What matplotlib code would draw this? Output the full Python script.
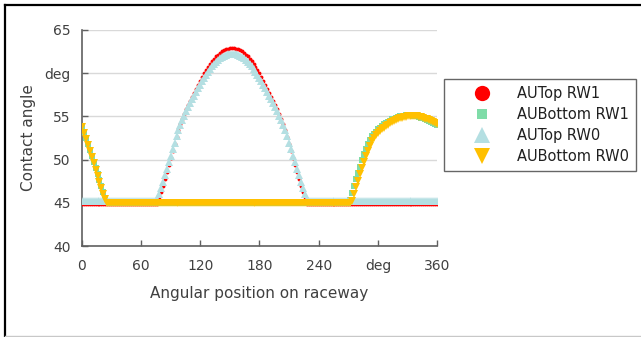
import numpy as np
import matplotlib
matplotlib.use('Agg')
import matplotlib.pyplot as plt
from matplotlib.lines import Line2D

# angular positions on raceway, every 2 deg (181 points)
angle = np.arange(0, 361, 2)

# contact angle values
au_top_rw1 = [
    44.9, 44.9, 44.9, 44.9, 44.9, 44.9, 44.9, 44.9, 44.9, 44.9,
    44.9, 44.9, 44.9, 44.9, 44.9, 44.9, 44.9, 44.9, 44.9, 44.9,
    44.9, 44.9, 44.9, 44.9, 44.9, 44.9, 44.9, 44.9, 44.9, 44.9,
    44.9, 44.9, 44.9, 44.9, 44.9, 44.9, 44.9, 44.9, 44.9,
    # 78 .. 150
    45.4, 46.2, 47.0, 47.8, 48.6, 49.4, 50.2, 51.0, 51.85, 52.65,
    53.45, 54.15, 54.75, 55.3, 55.83, 56.33, 56.82, 57.3, 57.76, 58.22,
    58.68, 59.13, 59.57, 60.0, 60.4, 60.76, 61.1, 61.41, 61.69, 61.94,
    62.16, 62.36, 62.53, 62.67, 62.78, 62.85, 62.89,
    62.9,
    # 154 .. 226
    62.89, 62.85, 62.78, 62.67, 62.53, 62.36, 62.16, 61.94, 61.69, 61.41,
    61.1, 60.76, 60.4, 60.0, 59.57, 59.13, 58.68, 58.22, 57.76, 57.3,
    56.82, 56.33, 55.83, 55.3, 54.75, 54.15, 53.45, 52.65, 51.85, 51.0,
    50.2, 49.4, 48.6, 47.8, 47.0, 46.2, 45.4,
    # 228 .. 360
    44.9, 44.9, 44.9, 44.9, 44.9, 44.9, 44.9, 44.9, 44.9, 44.9,
    44.9, 44.9, 44.9, 44.9, 44.9, 44.9, 44.9, 44.9, 44.9, 44.9,
    44.9, 44.9, 44.9, 44.9, 44.9, 44.9, 44.9, 44.9, 44.9, 44.9,
    44.9, 44.9, 44.9, 44.9, 44.9, 44.9, 44.9, 44.9, 44.9, 44.9,
    44.9, 44.9, 44.9, 44.9, 44.9, 44.9, 44.9, 44.9, 44.9, 44.9,
    44.9, 44.9, 44.9, 44.9, 44.9, 44.9, 44.9, 44.9, 44.9, 44.9,
    44.9, 44.9, 44.9, 44.9, 44.9, 44.9, 44.9,
]

au_bottom_rw1 = [
    53.9, 53.25, 52.55, 51.85, 51.15, 50.45, 49.75, 49.05, 48.35, 47.65,
    46.95, 46.25, 45.55, 45.1,
    # 28 .. 270
    45.0, 45.0, 45.0, 45.0, 45.0, 45.0, 45.0, 45.0, 45.0, 45.0,
    45.0, 45.0, 45.0, 45.0, 45.0, 45.0, 45.0, 45.0, 45.0, 45.0,
    45.0, 45.0, 45.0, 45.0, 45.0, 45.0, 45.0, 45.0, 45.0, 45.0,
    45.0, 45.0, 45.0, 45.0, 45.0, 45.0, 45.0, 45.0, 45.0, 45.0,
    45.0, 45.0, 45.0, 45.0, 45.0, 45.0, 45.0, 45.0, 45.0, 45.0,
    45.0, 45.0, 45.0, 45.0, 45.0, 45.0, 45.0, 45.0, 45.0, 45.0,
    45.0, 45.0, 45.0, 45.0, 45.0, 45.0, 45.0, 45.0, 45.0, 45.0,
    45.0, 45.0, 45.0, 45.0, 45.0, 45.0, 45.0, 45.0, 45.0, 45.0,
    45.0, 45.0, 45.0, 45.0, 45.0, 45.0, 45.0, 45.0, 45.0, 45.0,
    45.0, 45.0, 45.0, 45.0, 45.0, 45.0, 45.0, 45.0, 45.0, 45.0,
    45.0, 45.0, 45.0, 45.0, 45.0, 45.0, 45.0, 45.0, 45.0, 45.0,
    45.0, 45.0, 45.0, 45.0, 45.0, 45.0, 45.0, 45.0, 45.0, 45.0,
    45.0, 45.0,
    # 272 .. 360
    45.3, 46.1, 46.9, 47.7, 48.5, 49.2, 49.9, 50.6, 51.25, 51.8,
    52.3, 52.7, 53.0, 53.25, 53.5, 53.7, 53.9, 54.1, 54.25, 54.4,
    54.5, 54.65, 54.75, 54.85, 54.93, 55.0, 55.05, 55.1, 55.13, 55.15,
    55.15, 55.13, 55.1, 55.06, 55.0, 54.94, 54.86, 54.78, 54.68, 54.58,
    54.47, 54.36, 54.25, 54.15, 54.05,
]

au_top_rw0 = [
    45.2, 45.2, 45.2, 45.2, 45.2, 45.2, 45.2, 45.2, 45.2, 45.2,
    45.2, 45.2, 45.2, 45.2, 45.2, 45.2, 45.2, 45.2, 45.2, 45.2,
    45.2, 45.2, 45.2, 45.2, 45.2, 45.2, 45.2, 45.2, 45.2, 45.2,
    45.2, 45.2, 45.2, 45.2, 45.2, 45.2, 45.2, 45.2,
    # 76 .. 150
    45.45, 46.0, 46.7, 47.45, 48.2, 48.95, 49.7, 50.45, 51.2, 51.95,
    52.7, 53.4, 54.05, 54.6, 55.1, 55.59, 56.06, 56.52, 56.97, 57.41,
    57.84, 58.26, 58.67, 59.07, 59.45, 59.82, 60.17, 60.5, 60.8, 61.08,
    61.33, 61.55, 61.74, 61.9, 62.03, 62.13, 62.2, 62.24,
    62.25,
    # 154 .. 228
    62.24, 62.2, 62.13, 62.03, 61.9, 61.74, 61.55, 61.33, 61.08, 60.8,
    60.5, 60.17, 59.82, 59.45, 59.07, 58.67, 58.26, 57.84, 57.41, 56.97,
    56.52, 56.06, 55.59, 55.1, 54.6, 54.05, 53.4, 52.7, 51.95, 51.2,
    50.45, 49.7, 48.95, 48.2, 47.45, 46.7, 46.0, 45.45,
    # 230 .. 360
    45.2, 45.2, 45.2, 45.2, 45.2, 45.2, 45.2, 45.2, 45.2, 45.2,
    45.2, 45.2, 45.2, 45.2, 45.2, 45.2, 45.2, 45.2, 45.2, 45.2,
    45.2, 45.2, 45.2, 45.2, 45.2, 45.2, 45.2, 45.2, 45.2, 45.2,
    45.2, 45.2, 45.2, 45.2, 45.2, 45.2, 45.2, 45.2, 45.2, 45.2,
    45.2, 45.2, 45.2, 45.2, 45.2, 45.2, 45.2, 45.2, 45.2, 45.2,
    45.2, 45.2, 45.2, 45.2, 45.2, 45.2, 45.2, 45.2, 45.2, 45.2,
    45.2, 45.2, 45.2, 45.2, 45.2, 45.2,
]

au_bottom_rw0 = [
    53.8, 53.1, 52.4, 51.7, 50.95, 50.25, 49.55, 48.85, 48.15, 47.45,
    46.75, 46.05, 45.4,
    # 26 .. 272
    45.0, 45.0, 45.0, 45.0, 45.0, 45.0, 45.0, 45.0, 45.0, 45.0,
    45.0, 45.0, 45.0, 45.0, 45.0, 45.0, 45.0, 45.0, 45.0, 45.0,
    45.0, 45.0, 45.0, 45.0, 45.0, 45.0, 45.0, 45.0, 45.0, 45.0,
    45.0, 45.0, 45.0, 45.0, 45.0, 45.0, 45.0, 45.0, 45.0, 45.0,
    45.0, 45.0, 45.0, 45.0, 45.0, 45.0, 45.0, 45.0, 45.0, 45.0,
    45.0, 45.0, 45.0, 45.0, 45.0, 45.0, 45.0, 45.0, 45.0, 45.0,
    45.0, 45.0, 45.0, 45.0, 45.0, 45.0, 45.0, 45.0, 45.0, 45.0,
    45.0, 45.0, 45.0, 45.0, 45.0, 45.0, 45.0, 45.0, 45.0, 45.0,
    45.0, 45.0, 45.0, 45.0, 45.0, 45.0, 45.0, 45.0, 45.0, 45.0,
    45.0, 45.0, 45.0, 45.0, 45.0, 45.0, 45.0, 45.0, 45.0, 45.0,
    45.0, 45.0, 45.0, 45.0, 45.0, 45.0, 45.0, 45.0, 45.0, 45.0,
    45.0, 45.0, 45.0, 45.0, 45.0, 45.0, 45.0, 45.0, 45.0, 45.0,
    45.0, 45.0, 45.0, 45.0,
    # 274 .. 360
    45.2, 46.0, 46.8, 47.5, 48.3, 49.0, 49.7, 50.4, 51.05, 51.6,
    52.1, 52.5, 52.8, 53.05, 53.3, 53.5, 53.7, 53.9, 54.05, 54.2,
    54.35, 54.5, 54.6, 54.7, 54.8, 54.87, 54.93, 54.98, 55.02, 55.05,
    55.06, 55.05, 55.03, 55.0, 54.95, 54.89, 54.82, 54.74, 54.65, 54.55,
    54.44, 54.32, 54.2, 54.08,
]

series_names = ['AUTop RW1', 'AUBottom RW1', 'AUTop RW0', 'AUBottom RW0']
colors = ['#ff0000', '#7fdca8', '#b4dfe2', '#ffc000']

x_ticks = [0, 60, 120, 180, 240, 300, 360]
x_ticklabels = ['0', '60', '120', '180', '240', 'deg', '360']
y_ticks = [40, 45, 50, 55, 60, 65]
y_ticklabels = ['40', '45', '50', '55', 'deg', '65']

text_col = '#404040'
plt.rcParams['font.family'] = ['DejaVu Sans']

fig = plt.figure(figsize=(6.41, 3.37), dpi=100)
ax = fig.add_axes([0.1275, 0.27, 0.5545, 0.641])

ax.plot(angle, au_top_rw1, ls='none', marker='o', ms=2.8, mew=0, color=colors[0], zorder=3)
ax.plot(angle, au_bottom_rw1, ls='none', marker='s', ms=5, mew=0, color=colors[1], zorder=4)
ax.plot(angle, au_top_rw0, ls='none', marker='^', ms=6, mew=0, color=colors[2], zorder=5)
ax.plot(angle, au_bottom_rw0, ls='none', marker='v', ms=6, mew=0, color=colors[3], zorder=6)

ax.set_xlim(0, 360)
ax.set_ylim(40, 65)
ax.set_xticks(x_ticks)
ax.set_xticklabels(x_ticklabels)
ax.set_yticks(y_ticks)
ax.set_yticklabels(y_ticklabels)
ax.tick_params(direction='in', length=4, width=1, color='#606060',
               labelsize=10, labelcolor=text_col, pad=8)
ax.tick_params(axis='x', pad=9)
ax.grid(axis='y', color='#d9d9d9', lw=1)
ax.set_axisbelow(True)
for s in ['top', 'right']:
    ax.spines[s].set_visible(False)
for s in ['left', 'bottom']:
    ax.spines[s].set_color('#606060')
    ax.spines[s].set_linewidth(1.2)

ax.set_xlabel('Angular position on raceway', fontsize=11, color=text_col, labelpad=10)
ax.set_ylabel('Contact angle', fontsize=11, color=text_col, labelpad=6)

# legend uses bigger markers than the plot
handles = [
    Line2D([], [], ls='none', marker='o', ms=11, mew=0, color=colors[0]),
    Line2D([], [], ls='none', marker='s', ms=7.5, mew=0, color=colors[1]),
    Line2D([], [], ls='none', marker='^', ms=12, mew=0, color=colors[2]),
    Line2D([], [], ls='none', marker='v', ms=12, mew=0, color=colors[3]),
]
leg = fig.legend(handles, series_names, loc='upper left',
                 bbox_to_anchor=(444 / 641, 1 - 79 / 337),
                 fontsize=10.5, frameon=True, fancybox=False,
                 borderaxespad=0, borderpad=0.5, labelspacing=0.4,
                 handlelength=4.2, handletextpad=0.3)
leg.get_frame().set_edgecolor('#404040')
leg.get_frame().set_linewidth(1.0)
for t in leg.get_texts():
    t.set_color('#202020')

# outer frame of the picture
fig.add_artist(Line2D([5 / 641, 1], [1 - 5 / 337, 1 - 5 / 337], color='black', lw=1.6))
fig.add_artist(Line2D([5 / 641, 5 / 641], [1 - 5 / 337, 1 / 337], color='black', lw=1.6))
fig.add_artist(Line2D([5 / 641, 1], [1.5 / 337, 1.5 / 337], color='#c8c8c8', lw=1))

fig.savefig('out.png', dpi=100)
